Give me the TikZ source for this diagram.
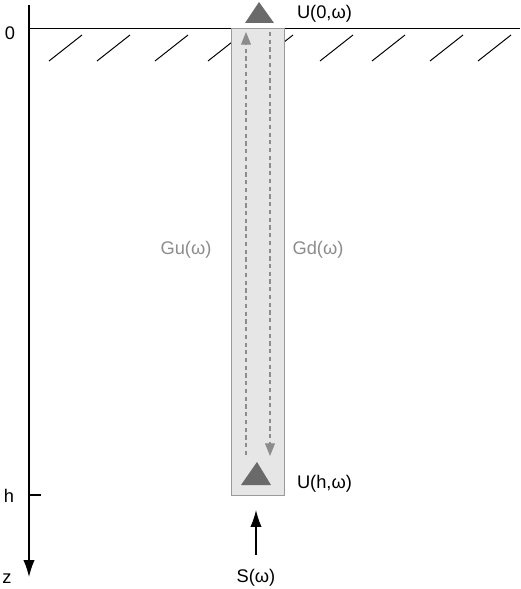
\documentclass[tikz,border=0pt]{standalone}
\usepackage{fontspec}
\setmainfont{Liberation Sans}
\usetikzlibrary{arrows.meta}

\definecolor{boreholefill}{HTML}{E6E6E6}
\definecolor{boreholeline}{HTML}{9A9A9A}
\definecolor{sensorgray}{HTML}{6A6A6A}
\definecolor{wavegray}{HTML}{8C8C8C}

\tikzset{
  label text/.style={font=\fontsize{13}{15}\selectfont, inner sep=1pt},
  wave text/.style={label text, text=wavegray},
  wave/.style={draw=wavegray, line width=0.8pt, dash pattern=on 3pt off 2.5pt, -{Triangle[length=9pt,width=7pt,fill=wavegray]}},
  big arrow/.style={-{Latex[length=12pt,width=8pt]}}
}

\begin{document}
\begin{tikzpicture}[x=0.025cm,y=-0.025cm,line width=0.9pt]  % one unit = one pixel of the reference, y pointing down
    \useasboundingbox (0,0) rectangle (520,589);

    % Depth axis and surface
    \coordinate (axis top) at (29,5);
    \coordinate (axis end) at (29,577);
    \coordinate (surface left) at (29,28);
    \coordinate (surface right) at (520,28);
    \draw[big arrow] (axis top) -- (axis end);
    \draw[line width=0.7pt] (surface left) -- (surface right);
    \coordinate (tick h) at (41,495);
    \draw (29,495) -- (tick h);

    \node[label text] (zero) at (10,33) {0};
    \node[label text] (depth h) at (9,496) {h};
    \node[label text] (depth z) at (7,579) {z};

    % Hatching below the surface
    \foreach \hx in {49,97,155,208,260,320,372,430,478}
        \draw[line width=0.7pt] (\hx,61) -- ++(33,-26);

    % Borehole
    \node[draw=boreholeline, fill=boreholefill, line width=0.7pt, minimum width=53*0.025cm, minimum height=467*0.025cm, inner sep=0pt] (borehole) at (257.5,261.5) {};

    % Receivers
    \fill[sensorgray] (245,23) -- (259,2) -- (274,23) -- cycle;
    \coordinate (receiver top) at (259,14);
    \fill[sensorgray] (241,485) -- (257,462) -- (271,485) -- cycle;
    \coordinate (receiver bottom) at (257,476);

    \node[label text, anchor=west] (U0) at (295,14) {U(0,ω)};
    \node[label text, anchor=west] (Uh) at (295,484) {U(h,ω)};

    % Up- and down-going waves
    \coordinate (up start) at (246,455);
    \coordinate (up end) at (246,32);
    \coordinate (down start) at (270,32);
    \coordinate (down end) at (270,456);
    \draw[wave] (up start) -- (up end);
    \draw[wave] (down start) -- (down end);

    \node[wave text] (Gu) at (186,250) {Gu(ω)};
    \node[wave text] (Gd) at (318,250) {Gd(ω)};

    % Source
    \node[label text] (source) at (256,578) {S(ω)};
    \coordinate (source tip) at (256,510);
    \draw[big arrow, shorten <=9pt] (source.north) -- (source tip);
\end{tikzpicture}
\end{document}
